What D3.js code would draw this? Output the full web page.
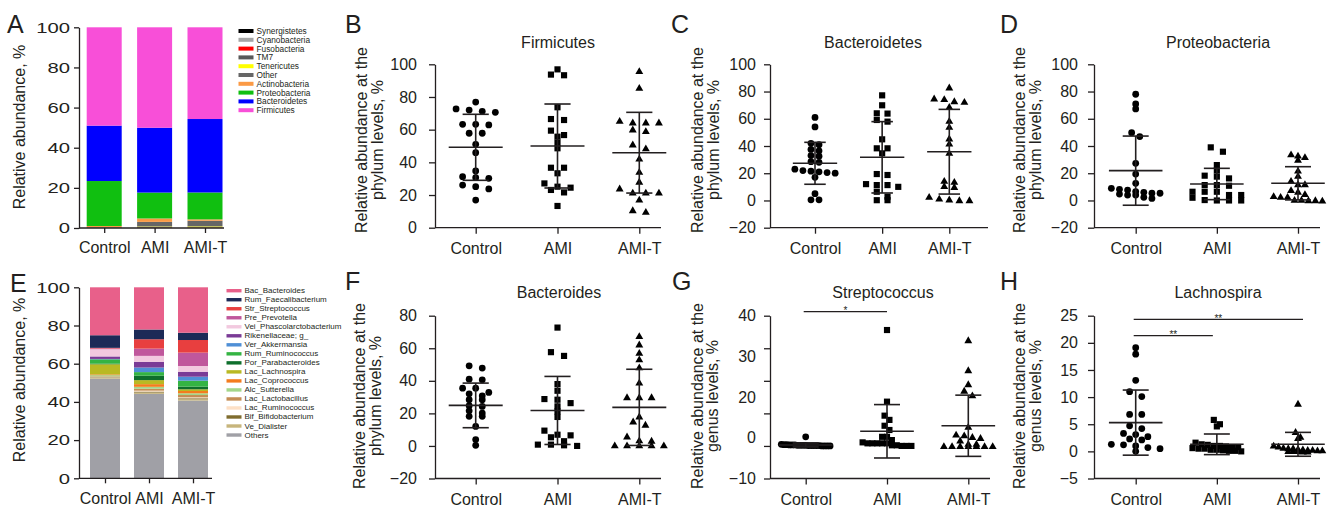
<!DOCTYPE html>
<html><head><meta charset="utf-8">
<script src="https://cdn.jsdelivr.net/npm/d3@7"></script>
<style>
body{margin:0;background:#fff}
svg{display:block}
text{font-family:"Liberation Sans",Arial,Helvetica,sans-serif;fill:#231f20}
</style>
</head><body>
<svg id="chart" width="1328" height="513"></svg>
<script>
// ---------------- DATA ----------------
const groups = ["Control", "AMI", "AMI-T"];

// Panel A: phylum composition (stack bottom -> top)
const phylumNames = ["Synergistetes","Cyanobacteria","Fusobacteria","TM7","Tenericutes","Other","Actinobacteria","Proteobacteria","Bacteroidetes","Firmicutes"];
const phylumColors = ["#000000","#a6a6a6","#ff0000","#595959","#ffff00","#666666","#fb9a45","#10bf10","#0000ff","#f84fd8"];
const phylumControl = [0.05,0.05,0.05,0.05,0.1,0.2,0.5,22.4,27.6,49.0];
const phylumAMI     = [0.05,0.1,0.1,0.2,0.3,2.3,1.7,12.9,32.3,50.05];
const phylumAMIT    = [0.05,0.05,0.1,0.1,0.5,2.8,0.7,13.4,36.6,45.7];

// Panel E: genus composition (legend order top -> bottom; stack is reversed)
const genusNames = ["Bac_Bacteroides","Rum_Faecalibacterium","Str_Streptococcus","Pre_Prevotella","Vei_Phascolarctobacterium","Rikenellaceae; g_","Ver_Akkermansia","Rum_Ruminococcus","Por_Parabacteroides","Lac_Lachnospira","Lac_Coprococcus","Alc_Sutterella","Lac_Lactobacillus","Lac_Ruminococcus","Bif_Bifidobacterium","Ve_Dialister","Others"];
const genusColors = ["#e8608a","#1c2a57","#e83f3f","#c0579c","#f2c9df","#7a3b96","#4f8fd6","#34b443","#0e6f2c","#b9b923","#f47c1e","#a3d68a","#c48d55","#fde0c6","#7f6c2e","#c7b57c","#a0a0a6"];
const genusControl = [25.1,6.6,0.3,0.4,3.8,1.3,0.2,2.3,0.3,5.3,0.4,0.6,0.3,0.2,0.3,0.4,52.2];
const genusAMI     = [22.1,5.1,4.9,3.8,3.1,3.0,2.4,1.9,2.3,2.1,1.4,1.0,1.0,0.5,0.5,0.7,44.2];
const genusAMIT    = [23.8,3.8,6.6,7.0,3.0,2.6,2.1,3.1,1.4,0.9,1.2,0.9,1.2,0.5,0.5,0.7,40.7];

// Panel B: Firmicutes
const firmicutesControl = [76.9,72.7,72.0,71.2,70.6,63.3,63.3,62.9,57.8,57.8,51.0,45.9,34.7,31.2,30.6,30.2,26.1,25.1,23.7,16.9];
const firmicutesAMI     = [96.9,93.7,93.3,73.7,66.5,65.9,59.4,56.7,55.7,52.0,48.6,36.7,36.7,33.3,27.1,25.1,24.5,23.1,21.6,13.3];
const firmicutesAMIT    = [95.9,85.7,65.5,64.5,64.5,64.5,60.2,59.2,51.0,48.6,42.4,34.3,28.2,24.1,21.6,21.6,21.6,17.3,10.8,9.8];
const firmicutesMean = [49.2,50.0,45.9];
const firmicutesSD   = [20.2,25.7,24.7];

// Panel C: Bacteroidetes
const bacteroidetesControl = [61,54,42,41,37.5,36.5,33,32.5,28.5,28,23,22,21.5,21,20.5,20,17,5,0.5,0.5];
const bacteroidetesAMI     = [77.2,69.9,64.0,63.8,59.1,57.9,44.9,38.3,38.3,34.6,19.4,18.7,12.0,11.3,11.3,10.0,6.4,2.8,0.2,0.2];
const bacteroidetesAMIT    = [83.1,75.0,74.5,73.0,72.5,68.9,58.6,54.2,45.6,41.9,35.1,14.5,13.8,10.6,10.0,2.8,1.5,0.8,0.3,0.3];
const bacteroidetesMean = [27.3,31.7,35.8];
const bacteroidetesSD   = [15.4,26.2,31.1];

// Panel D: Proteobacteria
const proteobacteriaControl = [78.0,70.9,67.2,49.8,46.9,27.3,19.4,12.6,8.9,8.2,7.6,6.5,6.0,5.3,5.3,4.7,4.0,4.0,2.3,1.5];
const proteobacteriaAMI     = [39.0,35.8,26.0,22.0,18.2,17.5,16.2,11.3,11.3,10.8,6.4,6.4,6.4,4.0,4.0,2.0,0.3,0.0,0.0,0.0];
const proteobacteriaAMIT    = [34.0,33.0,32.0,30.0,22.0,18.2,14.5,12.0,12.0,7.7,6.5,4.8,3.3,2.8,2.8,0.5,0.5,0.3,0.3,0.0];
const proteobacteriaMean = [21.9,12.1,12.6];
const proteobacteriaSD   = [25.4,11.5,12.2];

// Panel F: Bacteroides
const bacteroidesControl = [49.2,47.8,41.0,40.6,35.5,35.5,32.9,32.0,30.8,28.4,28.4,24.7,24.3,21.6,20.2,18.2,18.2,12.0,3.9,0.4];
const bacteroidesAMI     = [72.7,57.6,55.3,38.0,33.9,28.8,28.4,26.3,24.3,21.2,17.8,9.4,6.9,6.5,5.3,2.9,0.8,0.8,0.4,0.0];
const bacteroidesAMIT    = [67.6,62.4,57.3,53.3,48.4,39.0,30.0,30.0,30.0,18.2,15.1,13.1,5.9,3.5,3.3,0.4,0.4,0.4,0.4,0.4];
const bacteroidesMean = [24.9,21.8,23.7];
const bacteroidesSD   = [13.7,20.9,23.4];

// Panel G: Streptococcus
const streptococcusControl = [2.8,0.5,0.4,0.4,0.3,0.3,0.3,0.2,0.2,0.2,0.2,0.1,0.1,0.1,0.1,0.1,0.0,0.0,0.0,0.0];
const streptococcusAMI     = [35.6,13.6,9.3,8.0,6.2,4.9,2.8,2.8,1.8,1.1,0.8,0.8,0.8,0.8,0.8,0.2,0.2,0.0,0.0,0.0];
const streptococcusAMIT    = [32.5,23.3,19.0,17.0,15.6,5.9,3.5,3.3,2.8,2.5,1.7,0.7,0.7,0.0,0.0,0.0,0.0,0.0,0.0,0.0];
const streptococcusMean = [0.3,4.5,6.2];
const streptococcusSD   = [0.6,8.2,9.4];
const streptococcusTickLabels = ["40","30","20","0","\u221210"];

// Panel H: Lachnospira
const lachnospiraControl = [19.1,17.9,13.1,11.0,10.1,6.8,6.8,4.7,4.2,3.3,3.1,2.7,2.3,2.1,1.3,1.2,1.0,0.7,0.5,0.0];
const lachnospiraAMI     = [5.8,5.0,4.6,1.6,1.3,1.2,1.0,1.0,0.9,0.8,0.8,0.6,0.5,0.5,0.3,0.3,0.2,0.1,0.1,0.0];
const lachnospiraAMIT    = [8.8,3.6,2.7,2.5,1.1,0.9,0.7,0.6,0.6,0.5,0.4,0.3,0.3,0.2,0.2,0.1,0.1,0.1,0.0,0.0];
const lachnospiraMean = [5.3,1.3,1.3];
const lachnospiraSD   = [6.0,1.9,2.2];

// ---------------- DRAW ----------------
const svg = d3.select("#chart");
const INK = "#231f20";
const FONT = 16;

function styleAxis(sel) {
  sel.selectAll("path,line").attr("stroke", INK).attr("stroke-width", 1.3);
  sel.selectAll("text").attr("font-size", FONT).style("fill", INK)
     .attr("font-family", '"Liberation Sans",Arial,sans-serif');
}

function panelLetter(t, x, y) {
  svg.append("text").attr("x", x).attr("y", y).attr("font-size", 25).text(t);
}

function yLabel(lines, cx, cy, gap) {
  const g = svg.append("g").attr("transform", `translate(${cx},${cy}) rotate(-90)`);
  lines.forEach((l, i) => {
    g.append("text").attr("x", 0).attr("y", (i - (lines.length - 1) / 2) * gap)
      .attr("text-anchor", "middle").attr("dominant-baseline", "central")
      .attr("font-size", FONT).text(l);
  });
}

// ---------- stacked bars ----------
function stackPanel(cfg) {
  const rows = groups.map((gname, gi) => {
    const o = {group: gname};
    cfg.names.forEach((n, i) => o[n] = cfg.values[gi][i]);
    return o;
  });
  const keys = cfg.stackKeys;
  const series = d3.stack().keys(keys)(rows);
  const y = d3.scaleLinear().domain([0, 100]).range([cfg.bottom, cfg.top]);
  const x = d3.scalePoint().domain(groups).range(cfg.xRange);
  const colorOf = d3.scaleOrdinal().domain(cfg.names).range(cfg.colors);
  const g = svg.append("g");
  g.selectAll("g.s").data(series).join("g").attr("fill", d => colorOf(d.key))
    .selectAll("rect").data(d => d).join("rect")
    .attr("x", d => x(d.data.group) - cfg.barW / 2)
    .attr("width", cfg.barW)
    .attr("y", d => y(d[1]))
    .attr("height", d => Math.max(0, y(d[0]) - y(d[1])));
  // axes
  const ya = g.append("g").attr("transform", `translate(${cfg.axisX},0)`)
    .call(d3.axisLeft(y).tickValues([0,20,40,60,80,100]).tickSize(5).tickPadding(4).tickSizeOuter(0));
  styleAxis(ya);
  // tick labels of these panels are horizontally stretched in the original figure
  ya.selectAll(".tick text").attr("font-size", 15)
    .attr("transform", "translate(-9,0) scale(1.35,1) translate(9,0)");
  const xa = g.append("g").attr("transform", `translate(0,${cfg.bottom})`)
    .call(d3.axisBottom(x).tickSize(5).tickPadding(9).tickSizeOuter(0));
  xa.select(".domain").attr("d", `M${cfg.axisX},0H${cfg.xEnd}`);
  styleAxis(xa);
  // legend
  const lg = svg.append("g");
  cfg.legendNames.forEach((n, i) => {
    const yy = cfg.legY + i * cfg.legStep;
    lg.append("rect").attr("x", cfg.legX).attr("y", yy - cfg.swH / 2)
      .attr("width", cfg.swW).attr("height", cfg.swH).attr("fill", colorOf(n));
    lg.append("text").attr("x", cfg.legX + cfg.swW + 3).attr("y", yy)
      .attr("dominant-baseline", "central").attr("font-size", cfg.legFont).text(n);
  });
}

stackPanel({
  names: phylumNames, colors: phylumColors,
  values: [phylumControl, phylumAMI, phylumAMIT],
  stackKeys: phylumNames,
  legendNames: phylumNames,
  top: 27.3, bottom: 228, xRange: [104.2, 205], barW: 35, axisX: 79, xEnd: 224,
  legX: 238.5, legY: 31, legStep: 8.8, swW: 15, swH: 4, legFont: 8.3
});
stackPanel({
  names: genusNames, colors: genusColors,
  values: [genusControl, genusAMI, genusAMIT],
  stackKeys: genusNames.slice().reverse(),
  legendNames: genusNames,
  top: 287.3, bottom: 478.3, xRange: [105, 193], barW: 30, axisX: 79, xEnd: 212,
  legX: 226.5, legY: 290.7, legStep: 9.02, swW: 15, swH: 3.4, legFont: 8.0
});
panelLetter("A", 7, 33);
panelLetter("E", 10, 292);
yLabel(["Relative abundance, %"], 19, 127, 0);
yLabel(["Relative abundance, %"], 19, 380, 0);

// ---------- scatter panels ----------
const shapes = [d3.symbolCircle, d3.symbolSquare, d3.symbolTriangle];
const shapeSizes = [36, 38, 27];

function swarm(values, y, step) {
  // group into rows of nearly equal pixel height, then spread horizontally
  const idx = values.map((v, i) => i).sort((a, b) => values[b] - values[a]);
  const rows = [];
  let cur = null;
  idx.forEach(i => {
    const py = y(values[i]);
    if (cur && Math.abs(py - cur.start) < 5) cur.items.push(i);
    else { cur = {start: py, items: [i]}; rows.push(cur); }
  });
  const maxN = d3.max(rows, r => r.items.length);
  const sp = Math.min(0.16 * step, maxN > 1 ? 0.6 * step / (maxN - 1) : 0);
  const off = new Array(values.length).fill(0);
  rows.forEach(r => r.items.forEach((i, k) => off[i] = (k - (r.items.length - 1) / 2) * sp));
  return off;
}

function scatterPanel(cfg) {
  const g = svg.append("g");
  const y = d3.scaleLinear().domain(cfg.domain).range([cfg.bottom, cfg.top]);
  const x = d3.scalePoint().domain(groups).range(cfg.cats);
  const step = x.step();
  // y axis
  const ya = g.append("g").attr("transform", `translate(${cfg.axisX},0)`)
    .call(d3.axisLeft(y).tickValues(cfg.ticks).tickSize(6).tickPadding(cfg.pad).tickSizeOuter(0)
      .tickFormat(cfg.tickLabels ? () => "" : d3.format("d")));
  styleAxis(ya);
  if (cfg.tickLabels) {
    const yl = d3.scalePoint().domain(cfg.tickLabels).range([y(cfg.domain[1]), y(cfg.domain[0])]);
    const la = g.append("g").attr("transform", `translate(${cfg.axisX},0)`)
      .call(d3.axisLeft(yl).tickSize(0).tickPadding(6 + cfg.pad));
    la.select(".domain").remove();
    styleAxis(la);
  }
  // x axis
  const xa = g.append("g").attr("transform", `translate(0,${cfg.bottom})`)
    .call(d3.axisBottom(x).tickSize(6).tickPadding(9).tickSizeOuter(0));
  xa.select(".domain").attr("d", `M${cfg.axisX},0H${cfg.xEnd}`);
  styleAxis(xa);
  // points
  cfg.series.forEach((vals, gi) => {
    const off = swarm(vals, y, step);
    const sym = d3.symbol().type(shapes[gi]).size(shapeSizes[gi]);
    g.append("g").selectAll("path").data(vals).join("path")
      .attr("d", sym)
      .attr("transform", (d, i) => `translate(${x(groups[gi]) + off[i]},${y(d) + (gi === 2 ? 0.8 : 0)})`)
      .attr("fill", "#000");
  });
  // mean +- SD
  groups.forEach((gname, gi) => {
    const cx = x(gname), m = cfg.mean[gi], s = cfg.sd[gi];
    const mh = 0.33 * step, ch = 0.16 * step;
    const e = g.append("g").attr("stroke", INK).attr("stroke-width", 1.6);
    e.append("line").attr("x1", cx - mh).attr("x2", cx + mh).attr("y1", y(m)).attr("y2", y(m));
    e.append("line").attr("x1", cx).attr("x2", cx).attr("y1", y(m - s)).attr("y2", y(m + s));
    e.append("line").attr("x1", cx - ch).attr("x2", cx + ch).attr("y1", y(m + s)).attr("y2", y(m + s));
    e.append("line").attr("x1", cx - ch).attr("x2", cx + ch).attr("y1", y(m - s)).attr("y2", y(m - s));
  });
  // title
  svg.append("text").attr("x", cfg.titleX).attr("y", cfg.titleY).attr("text-anchor", "middle")
    .attr("dominant-baseline", "central").attr("font-size", FONT).text(cfg.title);
  yLabel(cfg.ylabel, cfg.ylabX, cfg.ylabY, 15.5);
  // significance bars
  (cfg.sig || []).forEach(sg => {
    const x1 = x(groups[sg.from]) - 2, x2 = x(groups[sg.to]) + sg.extra;
    svg.append("line").attr("x1", x1).attr("x2", x2).attr("y1", sg.y).attr("y2", sg.y)
      .attr("stroke", INK).attr("stroke-width", 1.2);
    svg.append("text").attr("x", (x1 + x2) / 2 + sg.dx).attr("y", sg.y + 2.5).attr("text-anchor", "middle")
      .attr("font-size", 10).text(sg.label);
  });
  return {x, y};
}

const row1 = {top: 64.3, bottom: 227.7};
const row2 = {top: 315.7, bottom: 478.5};
const phylumLab = ["Relative abundance at the", "phylum levels, %"];
const genusLab = ["Relative abundance at the", "genus levels, %"];

scatterPanel(Object.assign({}, row1, {
  domain: [0, 100], ticks: [0,20,40,60,80,100], axisX: 435, pad: 12, cats: [475.7, 639.3], xEnd: 661,
  series: [firmicutesControl, firmicutesAMI, firmicutesAMIT], mean: firmicutesMean, sd: firmicutesSD,
  title: "Firmicutes", titleX: 558, titleY: 42, ylabel: phylumLab, ylabX: 369.5, ylabY: 140
}));
scatterPanel(Object.assign({}, row1, {
  domain: [-20, 100], ticks: [-20,0,20,40,60,80,100], axisX: 770, pad: 8, cats: [815, 949.3], xEnd: 988,
  series: [bacteroidetesControl, bacteroidetesAMI, bacteroidetesAMIT], mean: bacteroidetesMean, sd: bacteroidetesSD,
  title: "Bacteroidetes", titleX: 873, titleY: 42, ylabel: phylumLab, ylabX: 705.5, ylabY: 140
}));
scatterPanel(Object.assign({}, row1, {
  domain: [-20, 100], ticks: [-20,0,20,40,60,80,100], axisX: 1094, pad: 10, cats: [1135.7, 1298], xEnd: 1320,
  series: [proteobacteriaControl, proteobacteriaAMI, proteobacteriaAMIT], mean: proteobacteriaMean, sd: proteobacteriaSD,
  title: "Proteobacteria", titleX: 1218, titleY: 42, ylabel: phylumLab, ylabX: 1027.5, ylabY: 140
}));
scatterPanel(Object.assign({}, row2, {
  domain: [-20, 80], ticks: [-20,0,20,40,60,80], axisX: 435, pad: 12, cats: [475.7, 639.3], xEnd: 661,
  series: [bacteroidesControl, bacteroidesAMI, bacteroidesAMIT], mean: bacteroidesMean, sd: bacteroidesSD,
  title: "Bacteroides", titleX: 559, titleY: 292, ylabel: phylumLab, ylabX: 367.5, ylabY: 396
}));
scatterPanel(Object.assign({}, row2, {
  domain: [-10, 40], ticks: [-10,0,10,20,30,40], tickLabels: streptococcusTickLabels,
  axisX: 770, pad: 8, cats: [805.7, 968.3], xEnd: 990,
  series: [streptococcusControl, streptococcusAMI, streptococcusAMIT], mean: streptococcusMean, sd: streptococcusSD,
  title: "Streptococcus", titleX: 883, titleY: 292, ylabel: genusLab, ylabX: 705, ylabY: 396,
  sig: [{from: 0, to: 1, y: 311.7, extra: 0, label: "*", dx: 0}]
}));
scatterPanel(Object.assign({}, row2, {
  domain: [-5, 25], ticks: [-5,0,5,10,15,20,25], axisX: 1094, pad: 10, cats: [1135.7, 1298], xEnd: 1320,
  series: [lachnospiraControl, lachnospiraAMI, lachnospiraAMIT], mean: lachnospiraMean, sd: lachnospiraSD,
  title: "Lachnospira", titleX: 1218, titleY: 292, ylabel: genusLab, ylabX: 1027.5, ylabY: 396,
  sig: [{from: 0, to: 2, y: 319.3, extra: 5, label: "**", dx: 0},
        {from: 0, to: 1, y: 335.7, extra: -4, label: "**", dx: 0}]
}));

panelLetter("B", 345, 33);
panelLetter("C", 671, 33);
panelLetter("D", 1000, 33);
panelLetter("F", 345, 290);
panelLetter("G", 672, 290);
panelLetter("H", 1000, 290);
</script>
</body></html>
